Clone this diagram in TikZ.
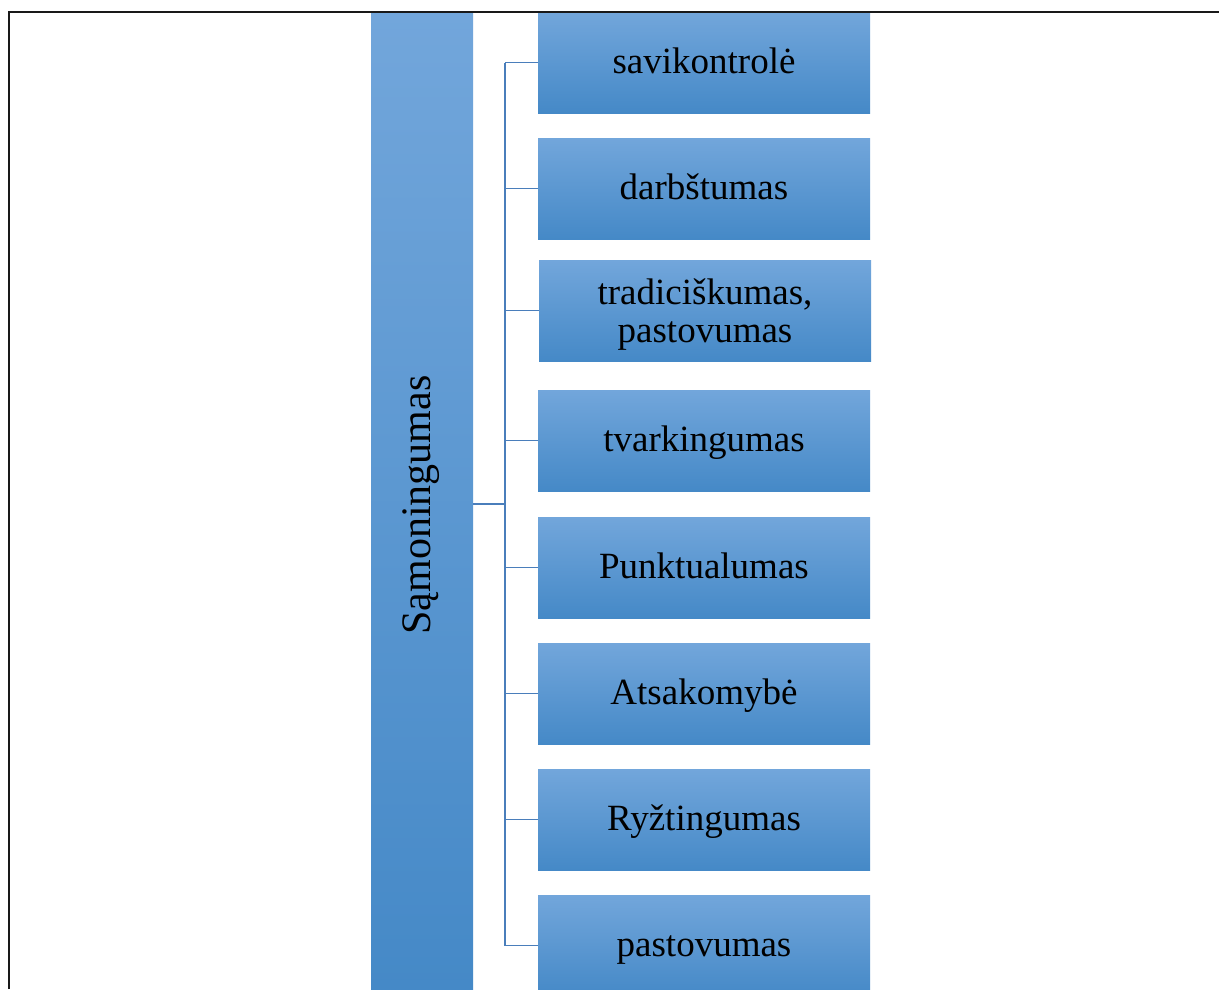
\documentclass[tikz,border=0pt]{standalone}
\usepackage{fontspec}
\setmainfont{Liberation Serif}
\usetikzlibrary{shadings}
\definecolor{gtop}{HTML}{72A6DB}
\definecolor{gmid}{HTML}{549CDF}
\definecolor{gbot}{HTML}{4589C7}
\definecolor{linec}{HTML}{4A7EBB}
\begin{document}
\begin{tikzpicture}[x=1pt,y=-1pt,
  itembox/.style={shade, top color=gtop, middle color=gmid, bottom color=gbot,
    minimum width=332pt, minimum height=101pt, inner sep=0pt, align=center,
    font=\fontsize{37}{38}\selectfont},
  oneline/.style={itembox, text height=29pt, text depth=8pt},
  boxtext/.style={inner sep=0pt, align=center, font=\fontsize{37}{38}\selectfont},
  mainbar/.style={shade, top color=gtop, middle color=gmid, bottom color=gbot,
    minimum width=102pt, minimum height=977pt, inner sep=0pt},
  maintext/.style={rotate=90, inner sep=0pt, font=\fontsize{42}{44}\selectfont},
  branch/.style={draw=linec, line width=1.4pt},
  frameline/.style={draw=black!90, line width=2pt}]
\useasboundingbox (0,0) rectangle (1219,989);
\fill[white] (0,0) rectangle (1219,989);
\begin{scope}
\clip (0,0) rectangle (1219,989);
\node[mainbar] (main) at (422,500.5) {};
\node[maintext] (mt) at (421,505) {Sąmoningumas};
\node[oneline] (b1) at (704,62.5) {savikontrolė};
\node[oneline] (b2) at (704,188.5) {darbštumas};
\node[itembox] (b3) at (705,310.5) {};
\node[boxtext] (b3t) at ([yshift=-4pt]b3.center) {tradiciškumas,\\pastovumas};
\node[oneline] (b4) at (704,440.5) {tvarkingumas};
\node[oneline] (b5) at (704,567.5) {Punktualumas};
\node[oneline] (b6) at (704,693.5) {Atsakomybė};
\node[oneline] (b7) at (704,819.5) {Ryžtingumas};
\node[oneline] (b8) at (704,945.5) {pastovumas};
\coordinate (j) at (505,504);
\draw[branch] (main.east |- j) -- (j);
\draw[branch] (j |- b1) -- (j |- b8);
\foreach \b in {b1,b2,b3,b4,b5,b6,b7,b8}
  \draw[branch] (j |- \b) -- (\b.west);
\coordinate (fl) at (8.5,989);
\coordinate (ftl) at (8.5,11.5);
\coordinate (ftr) at (1219,11.5);
\draw[frameline] (fl) -- (ftl) -- (ftr);
\end{scope}
\end{tikzpicture}
\end{document}
